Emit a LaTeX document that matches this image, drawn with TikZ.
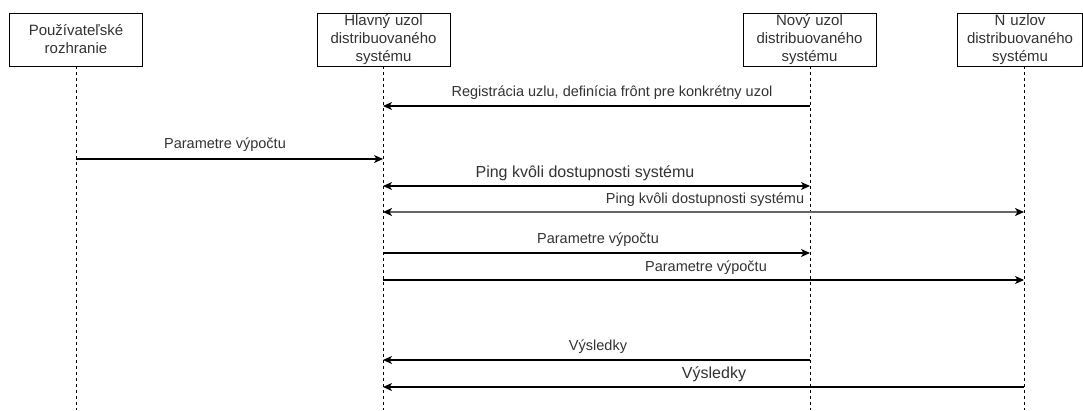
\documentclass[tikz,border=0pt]{standalone}
\usepackage{fontspec}
\setmainfont{Liberation Sans}
\usetikzlibrary{arrows.meta}
\definecolor{txt}{HTML}{333333}
\begin{document}
\begin{tikzpicture}[x=1pt,y=-1pt,
  hdr/.style={draw=black, line width=1pt, minimum width=133pt, minimum height=53pt, inner sep=0pt, text width=130pt, align=center, font=\fontsize{15}{18}\selectfont, text=txt},
  life/.style={draw=black, line width=1pt, dash pattern=on 3pt off 3pt},
  msg/.style={draw=black, line width=1.2pt, -{Stealth[length=9pt,width=8pt,inset=2.5pt]}},
  bimsg/.style={draw=black, line width=1.2pt, {Stealth[length=9pt,width=8pt,inset=2.5pt]}-{Stealth[length=9pt,width=8pt,inset=2.5pt]}},
  lbl/.style={font=\fontsize{14.5}{16}\selectfont, text=txt, inner sep=0pt}]
\useasboundingbox (0,0) rectangle (1083,410);
\fill[white] (0,0) rectangle (1083,410);
% headers
\node[hdr] (h1) at (76,39.5) {Používateľské\\rozhranie};
\node[hdr] (h2) at (383.5,39.5) {Hlavný uzol\\distribuovaného\\systému};
\node[hdr] (h3) at (809.5,39.5) {Nový uzol\\distribuovaného\\systému};
\node[hdr, minimum width=125pt, text width=124pt] (h4) at (1020,39.5) {N uzlov\\distribuovaného\\systému};
% lifelines
\coordinate (t1) at (76,66);   \coordinate (b1) at (76,410);
\coordinate (t2) at (383,66);  \coordinate (b2) at (383,410);
\coordinate (t3) at (810,66);  \coordinate (b3) at (810,410);
\coordinate (t4) at (1024,66); \coordinate (b4) at (1024,410);
\draw[life] (t1) -- (b1);
\draw[life] (t2) -- (b2);
\draw[life] (t3) -- (b3);
\draw[life] (t4) -- (b4);
% message end points
\coordinate (m1a) at (810,106);  \coordinate (m1b) at (383,106);
\coordinate (m2a) at (76,159);   \coordinate (m2b) at (383,159);
\coordinate (m3a) at (383,186);  \coordinate (m3b) at (810,186);
\coordinate (m4a) at (383,212);  \coordinate (m4b) at (1024,212);
\coordinate (m5a) at (383,253);  \coordinate (m5b) at (810,253);
\coordinate (m6a) at (383,280);  \coordinate (m6b) at (1024,280);
\coordinate (m7a) at (810,360);  \coordinate (m7b) at (383,360);
\coordinate (m8a) at (1024,387); \coordinate (m8b) at (383,387);
% messages
\draw[msg] (m1a) -- (m1b);
\node[lbl] (l1) at (612,93) {Registrácia uzlu, definícia frônt pre konkrétny uzol};
\draw[msg] (m2a) -- (m2b);
\node[lbl] (l2) at (225,145) {Parametre výpočtu};
\draw[bimsg] (m3a) -- (m3b);
\node[lbl, font=\fontsize{16}{18}\selectfont] (l3) at (585,173) {Ping kvôli dostupnosti systému};
\draw[draw=black!60, line width=1.8pt, {Stealth[length=9pt,width=8pt,inset=2.5pt,color=black]}-{Stealth[length=9pt,width=8pt,inset=2.5pt,color=black]}] (m4a) -- (m4b);
\node[lbl] (l4) at (705,200) {Ping kvôli dostupnosti systému};
\draw[msg] (m5a) -- (m5b);
\node[lbl] (l5) at (598,240) {Parametre výpočtu};
\draw[msg] (m6a) -- (m6b);
\node[lbl] (l6) at (706,268) {Parametre výpočtu};
\draw[msg] (m7a) -- (m7b);
\node[lbl] (l7) at (598,347) {Výsledky};
\draw[msg] (m8a) -- (m8b);
\node[lbl, font=\fontsize{16}{18}\selectfont] (l8) at (714,374) {Výsledky};
\end{tikzpicture}
\end{document}
